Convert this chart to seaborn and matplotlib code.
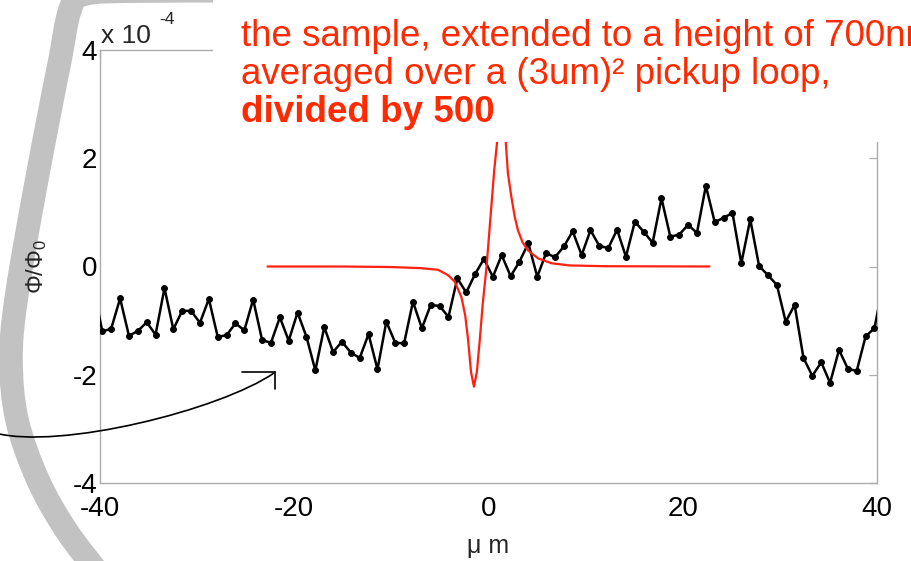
import matplotlib
matplotlib.use("Agg")
import matplotlib.pyplot as plt
import seaborn as sns
from matplotlib.patches import Rectangle, PathPatch
from matplotlib.path import Path
from matplotlib.lines import Line2D

W, H = 912, 561

# scan position along the line (um)
scan_x = [-40.67, -39.76, -38.85, -37.93, -37.02, -36.10, -35.19, -34.28, -33.36, -32.45,
          -31.54, -30.62, -29.71, -28.79, -27.88, -26.97, -26.05, -25.14, -24.23, -23.31,
          -22.40, -21.48, -20.57, -19.66, -18.74, -17.83, -16.91, -16.00, -15.09, -14.17,
          -13.26, -12.35, -11.43, -10.52, -9.60, -8.69, -7.78, -6.86, -5.95, -5.04,
          -4.12, -3.21, -2.29, -1.38, -0.47, 0.45, 1.36, 2.28, 3.19, 4.10,
          5.02, 5.93, 6.84, 7.76, 8.67, 9.59, 10.50, 11.41, 12.33, 13.24,
          14.15, 15.07, 15.98, 16.90, 17.81, 18.72, 19.64, 20.55, 21.46, 22.38,
          23.29, 24.21, 25.12, 26.03, 26.95, 27.86, 28.77, 29.69, 30.60, 31.52,
          32.43, 33.34, 34.26, 35.17, 36.09, 37.00, 37.91, 38.83, 39.74, 40.65]
# measured flux, in units of 1e-4 flux quanta
scan_flux = [-0.40, -1.20, -1.15, -0.59, -1.28, -1.19, -1.03, -1.26, -0.40, -1.16,
             -0.82, -0.82, -1.04, -0.60, -1.30, -1.27, -1.05, -1.18, -0.61, -1.36,
             -1.41, -0.94, -1.37, -0.85, -1.30, -1.92, -1.12, -1.58, -1.39, -1.59,
             -1.69, -1.25, -1.90, -1.02, -1.41, -1.42, -0.65, -1.14, -0.71, -0.73,
             -0.93, -0.22, -0.48, -0.14, 0.14, -0.19, 0.21, -0.18, 0.09, 0.43,
             -0.19, 0.25, 0.17, 0.37, 0.65, 0.21, 0.67, 0.38, 0.34, 0.68,
             0.18, 0.83, 0.64, 0.44, 1.26, 0.55, 0.59, 0.77, 0.62, 1.49,
             0.82, 0.90, 0.99, 0.06, 0.87, 0.01, -0.16, -0.34, -1.02, -0.71,
             -1.69, -2.02, -1.77, -2.15, -1.54, -1.89, -1.93, -1.29, -1.14, -0.30]

# modelled flux of the sample (same units), divided by 500
model_x = [-22.75, -15.0, -10.0, -7.0, -5.2, -4.17, -3.48, -2.8, -2.4, -2.1, -1.8, -1.5,
           -1.2, -0.9, -0.6, -0.2, 0.2, 0.6, 1.0, 1.3, 1.5, 1.7, 2.0, 2.35, 2.7,
           3.03, 3.5, 4.06, 5.1, 6.5, 8.3, 12.0, 22.75]
model_flux = [0.0, 0.0, -0.01, -0.03, -0.06, -0.16, -0.28, -0.56, -0.90, -1.36, -1.95, -2.22,
              -1.95, -1.36, -0.70, 0.0, 0.90, 1.80, 2.50, 2.75, 2.80, 2.50, 1.72, 1.29, 0.92,
              0.67, 0.45, 0.30, 0.15, 0.06, 0.02, 0.005, 0.0]

x_ticks = [-40, -20, 0, 20, 40]
y_ticks = [-4, -2, 0, 2, 4]

sns.set_theme(style="white")
plt.rcParams["font.family"] = ["Liberation Sans", "DejaVu Sans"]
plt.rcParams["axes.unicode_minus"] = False
plt.rcParams["mathtext.fontset"] = "custom"
plt.rcParams["mathtext.rm"] = "Liberation Sans"
plt.rcParams["mathtext.it"] = "Liberation Sans:italic"

fig = plt.figure(figsize=(W / 100, H / 100), dpi=100)
fig.patch.set_facecolor("white")


def fx(x):
    return x / W


def fy(y):
    return 1 - y / H


# decorative grey band on the left of the slide
band = [(330, -9), (150, -9), (85, -6), (70, 10), (60, 60), (52, 100), (33, 200),
        (16, 300), (11, 360), (17, 420), (38, 480), (66, 530), (100, 575)]


def smooth_path(points):
    pts = [(fx(x), fy(y)) for x, y in points]
    verts = [pts[0]]
    codes = [Path.MOVETO]
    for i in range(len(pts) - 1):
        p0 = pts[i - 1] if i > 0 else pts[i]
        p1 = pts[i]
        p2 = pts[i + 1]
        p3 = pts[i + 2] if i + 2 < len(pts) else pts[i + 1]
        c1 = (p1[0] + (p2[0] - p0[0]) / 6, p1[1] + (p2[1] - p0[1]) / 6)
        c2 = (p2[0] - (p3[0] - p1[0]) / 6, p2[1] - (p3[1] - p1[1]) / 6)
        verts += [c1, c2, p2]
        codes += [Path.CURVE4] * 3
    return Path(verts, codes)


fig.add_artist(PathPatch(smooth_path(band), transform=fig.transFigure, fill=False,
                         edgecolor="#c2c2c2", lw=17, capstyle="butt", zorder=0))

ax = fig.add_axes([100 / W, 1 - 483 / H, 777 / W, 433 / H])
ax.set_facecolor("white")
ax.patch.set_alpha(0)

sns.lineplot(x=scan_x, y=scan_flux, ax=ax, color="black", lw=1.8, marker="o",
             markersize=4.2, markeredgecolor="black", sort=False, zorder=3)
sns.lineplot(x=model_x, y=model_flux, ax=ax, color="#ff2010", lw=1.6, sort=False, zorder=4)

ax.set_xlim(-40, 40)
ax.set_ylim(-4, 4)
ax.set_xticks(x_ticks)
ax.set_yticks(y_ticks)
ax.set_xticklabels([str(t) for t in x_ticks])
ax.set_yticklabels([str(t) for t in y_ticks])
for s in ax.spines.values():
    s.set_color("#adadad")
    s.set_linewidth(1.0)
    s.set_visible(True)
ax.tick_params(direction="in", length=5.5, width=0.9, color="#adadad",
               top=True, right=True, labelsize=20, labelcolor="black")
ax.tick_params(axis="x", pad=9)
ax.tick_params(axis="y", pad=2)
ax.set_xlabel("\u03bc m", fontsize=18, labelpad=9)
ax.set_ylabel(r"$\Phi/\Phi_0$", fontsize=17, labelpad=17)

fig.text(fx(101), fy(43), "x 10", fontsize=19, ha="left", va="baseline")
fig.text(fx(159), fy(24), "-4", fontsize=12.5, ha="left", va="baseline")

# text box of the slide, lying on top of the chart
fig.add_artist(Rectangle((fx(213), fy(142)), 1 - fx(213), 142 / H, transform=fig.transFigure,
                         facecolor="white", edgecolor="none", zorder=5))
red = "#ff2a00"
fig.text(fx(241), fy(46), "the sample, extended to a height of 700nm", color=red,
         fontsize=26.5, ha="left", va="baseline", zorder=6)
fig.text(fx(241), fy(84), "averaged over a (3um)\u00b2 pickup loop,", color=red,
         fontsize=26.5, ha="left", va="baseline", zorder=6)
fig.text(fx(241), fy(122), "divided by 500", color=red, fontsize=26.5, fontweight="bold",
         ha="left", va="baseline", zorder=6)

# curved arrow pointing at the data
arrow = Path([(fx(-5), fy(433)), (fx(60), fy(450)), (fx(220), fy(410)), (fx(274), fy(373))],
             [Path.MOVETO, Path.CURVE4, Path.CURVE4, Path.CURVE4])
fig.add_artist(PathPatch(arrow, transform=fig.transFigure, fill=False, edgecolor="black",
                         lw=1.2, zorder=7))
fig.add_artist(Line2D([fx(242), fx(275)], [fy(372), fy(372)], transform=fig.transFigure,
                      color="black", lw=1.2, zorder=7))
fig.add_artist(Line2D([fx(275), fx(275)], [fy(372), fy(389)], transform=fig.transFigure,
                      color="black", lw=1.2, zorder=7))

fig.savefig("out.png", dpi=100, facecolor="white")
